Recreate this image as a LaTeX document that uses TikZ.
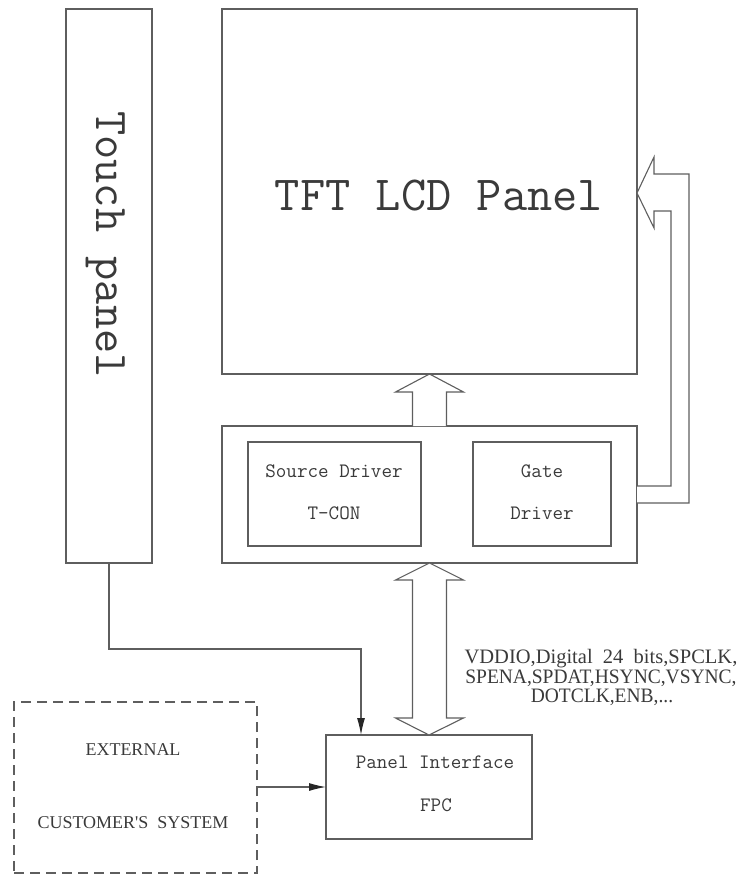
\documentclass[tikz,border=0pt]{standalone}
\usepackage{fontspec}
\newfontfamily\lsfont{Liberation Serif}
\usetikzlibrary{calc,arrows.meta}
\definecolor{linec}{HTML}{5E5E5E}
\definecolor{textc}{HTML}{3A3A3A}
\begin{document}
\begin{tikzpicture}[x=1pt,y=1pt,
  box/.style={draw=linec,line width=1.1pt,inner sep=0pt,outer sep=0pt,anchor=north west},
  dbox/.style={box,dash pattern=on 10pt off 6pt},
  hollow/.style={draw=linec,line width=1.1pt,line join=miter,fill=white},
  conn/.style={draw=linec,line width=1.1pt,-{Latex[length=17pt,width=8pt,color=black!85]}},
  bigtxt/.style={text=textc,inner sep=0pt,anchor=base,font=\fontsize{49}{49}\selectfont\ttfamily},
  midtxt/.style={text=textc,inner sep=0pt,anchor=base,font=\fontsize{20.5}{20.5}\selectfont\ttfamily},
  sertxt/.style={text=textc,inner sep=0pt,anchor=base,font=\fontsize{18}{18}\selectfont\lsfont},
  lbltxt/.style={text=textc,inner sep=0pt,anchor=base,font=\fontsize{20.5}{20.5}\selectfont\lsfont}
]
\useasboundingbox (0,0) rectangle (742,-875);

% boxes
\node[box,minimum width=86pt,minimum height=554pt] (touch) at (66,-9) {};
\node[box,minimum width=415pt,minimum height=365pt] (tft) at (222,-9) {};
\node[box,minimum width=415pt,minimum height=137pt] (drv) at (222,-426) {};
\node[box,minimum width=173pt,minimum height=104pt] (src) at (248,-442) {};
\node[box,minimum width=138pt,minimum height=104pt] (gate) at (473,-442) {};
\node[box,minimum width=206pt,minimum height=104pt] (fpc) at (326,-735) {};
\node[dbox,minimum width=243pt,minimum height=171pt] (ext) at (14,-702) {};

% texts
\node[bigtxt,rotate=-90,font=\fontsize{47}{47}\selectfont\ttfamily] (ttouch) at (96,-244.5) {Touch panel};
\node[bigtxt] (ttft) at (439,-210) {TFT LCD Panel};
\node[midtxt] (tsrc1) at (334,-477) {Source Driver};
\node[midtxt] (tsrc2) at (334,-519) {T-CON};
\node[midtxt] (tgate1) at (542,-477) {Gate};
\node[midtxt] (tgate2) at (542,-519) {Driver};
\node[midtxt] (tfpc1) at (435,-768) {Panel Interface};
\node[midtxt] (tfpc2) at (436,-811) {FPC};
\node[sertxt] (text1) at (133,-755) {EXTERNAL};
\node[sertxt] (text2) at (133,-828) {CUSTOMER\textquotesingle S\ \ SYSTEM};
\node[lbltxt] (lab1) at (601,-663) {VDDIO,Digital\ \ 24\ \ bits,SPCLK,};
\node[lbltxt,xscale=0.95] (lab2) at (601,-683) {SPENA,SPDAT,HSYNC,VSYNC,};
\node[lbltxt,xscale=0.95] (lab3) at (602,-702) {DOTCLK,ENB,...};

% hollow arrow driver -> TFT
\draw[hollow] ($(drv.north)+(-17,0)$) -- ($(drv.north)+(-17,34)$) -- ($(drv.north)+(-34,34)$)
  -- (tft.south) -- ($(drv.north)+(34,34)$) -- ($(drv.north)+(17,34)$) -- ($(drv.north)+(17,0)$);

% double hollow arrow driver <-> FPC
\draw[hollow] (drv.south) -- ($(drv.south)+(34,-17)$) -- ($(drv.south)+(17,-17)$)
  -- ($(fpc.north)+(17.5,17)$) -- ($(fpc.north)+(34.5,17)$) -- (fpc.north)
  -- ($(fpc.north)+(-33.5,17)$) -- ($(fpc.north)+(-16.5,17)$)
  -- ($(drv.south)+(-17,-17)$) -- ($(drv.south)+(-34,-17)$) -- cycle;

% bent hollow arrow gate driver side -> TFT right
\coordinate (tip) at ($(tft.south east)+(0,181)$);
\draw[hollow] ($(drv.east)+(0,8.5)$) -- ($(drv.east)+(34,8.5)$) -- ($(tip)+(34,-18)$)
  -- ($(tip)+(17,-18)$) -- ($(tip)+(17,-35)$) -- (tip) -- ($(tip)+(17,36)$)
  -- ($(tip)+(17,19)$) -- ($(tip)+(52,19)$) -- ($(drv.east)+(52,-8.5)$) -- ($(drv.east)+(0,-8.5)$);

% touch panel -> FPC
\coordinate (tbend) at (361,-649);
\draw[conn] (touch.south) |- (tbend) -- (tbend |- fpc.north);

% external -> FPC
\draw[conn] (ext.east |- 0,-787) -- (fpc.west |- 0,-787);
\end{tikzpicture}
\end{document}
